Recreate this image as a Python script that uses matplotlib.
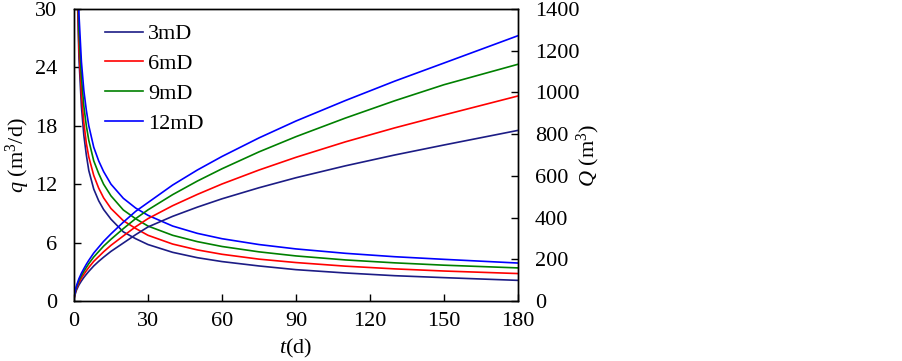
import matplotlib
matplotlib.use("Agg")
import matplotlib.pyplot as plt

plt.rcParams['font.family'] = ['Liberation Serif', 'DejaVu Serif']
plt.rcParams['mathtext.fontset'] = 'custom'
plt.rcParams['mathtext.rm'] = 'Liberation Serif'
plt.rcParams['mathtext.it'] = 'Liberation Serif:italic'

labels = ['3mD', '6mD', '9mD', '12mD']
colors = ['#1c1c85', '#ff0000', '#008000', '#0000ff']

t = [0.2, 0.5, 1, 2, 3, 4, 5, 6, 8, 10, 12, 15, 20, 25, 30, 40, 50, 60, 75, 90, 110, 130, 150, 180]

q_3 = [78, 50, 35, 25, 20, 17, 15, 13.4, 11.5, 10.3, 9.4, 8.4, 7.1, 6.4, 5.8, 5.0, 4.45, 4.05, 3.6, 3.22, 2.88, 2.6, 2.4, 2.12]
q_6 = [80, 52, 36, 26, 21.3, 18.3, 16.2, 14.8, 12.9, 11.6, 10.6, 9.5, 8.25, 7.45, 6.75, 5.85, 5.25, 4.8, 4.3, 3.95, 3.58, 3.3, 3.08, 2.82]
q_9 = [82, 54, 38, 27.8, 23, 20, 18, 16.5, 14.4, 13.1, 12.0, 10.8, 9.35, 8.45, 7.7, 6.75, 6.1, 5.6, 5.05, 4.63, 4.22, 3.92, 3.68, 3.4]
q_12 = [84, 56, 40, 29.5, 24.6, 21.6, 19.6, 18.0, 15.8, 14.4, 13.3, 12.0, 10.55, 9.55, 8.8, 7.7, 6.95, 6.4, 5.8, 5.35, 4.9, 4.55, 4.28, 3.9]

Q_3 = [18, 33, 52, 77, 96, 113, 128, 142, 168, 190, 210, 238, 278, 318, 355, 406, 450, 490, 543, 591, 648, 700, 748, 818]
Q_6 = [22, 40, 60, 88, 110, 128, 145, 161, 190, 213, 236, 267, 312, 356, 395, 457, 511, 561, 628, 689, 763, 830, 892, 983]
Q_9 = [26, 45, 67, 98, 122, 142, 161, 179, 211, 237, 263, 296, 347, 395, 437, 510, 575, 634, 715, 788, 877, 960, 1037, 1135]
Q_12 = [28, 50, 73, 107, 133, 155, 176, 195, 230, 258, 286, 322, 378, 430, 472, 556, 628, 693, 782, 863, 961, 1054, 1141, 1272]

x_ticks = [0, 30, 60, 90, 120, 150, 180]
q_ticks = [0, 6, 12, 18, 24, 30]
Q_ticks = [0, 200, 400, 600, 800, 1000, 1200, 1400]

fig = plt.figure(figsize=(9.02, 3.61), dpi=100)
ax = fig.add_axes([74/902, 1-301/361, (518-74)/902, (301-9)/361])
ax2 = ax.twinx()

qs = [q_3, q_6, q_9, q_12]
Qs = [Q_3, Q_6, Q_9, Q_12]
lw = 1.2
for qv, Qv, c, lab in zip(qs, Qs, colors, labels):
    ax.plot(t, qv, color=c, lw=lw, label=lab)
    ax2.plot(t, Qv, color=c, lw=lw)

ax.set_xlim(0, 180)
ax.set_ylim(0, 30)
ax2.set_ylim(0, 1400)
ax.set_xticks(x_ticks)
ax.set_yticks(q_ticks)
ax2.set_yticks(Q_ticks)

fs = 16
ax.tick_params(axis='x', direction='in', length=5, width=1, labelsize=fs, pad=8, top=False)
ax.tick_params(axis='y', direction='in', length=5, width=1, labelsize=fs, pad=12, right=False)
ax2.tick_params(axis='y', direction='in', length=5, width=1, labelsize=fs, pad=12)
for a in (ax, ax2):
    for s in a.spines.values():
        s.set_linewidth(1.0)

ax.set_xlabel(r'$t$(d)', fontsize=fs, labelpad=4)
ax.set_ylabel(r'$q$ (m$^3$/d)', fontsize=fs, labelpad=2)
ax2.set_ylabel(r'$Q$ (m$^3$)', fontsize=fs, labelpad=-3)

ax.legend(loc='upper left', bbox_to_anchor=(0.05, 0.98), frameon=False, fontsize=fs,
          handlelength=1.7, labelspacing=0.42, handletextpad=0.25, borderaxespad=0)

fig.savefig('out.png', dpi=100)
